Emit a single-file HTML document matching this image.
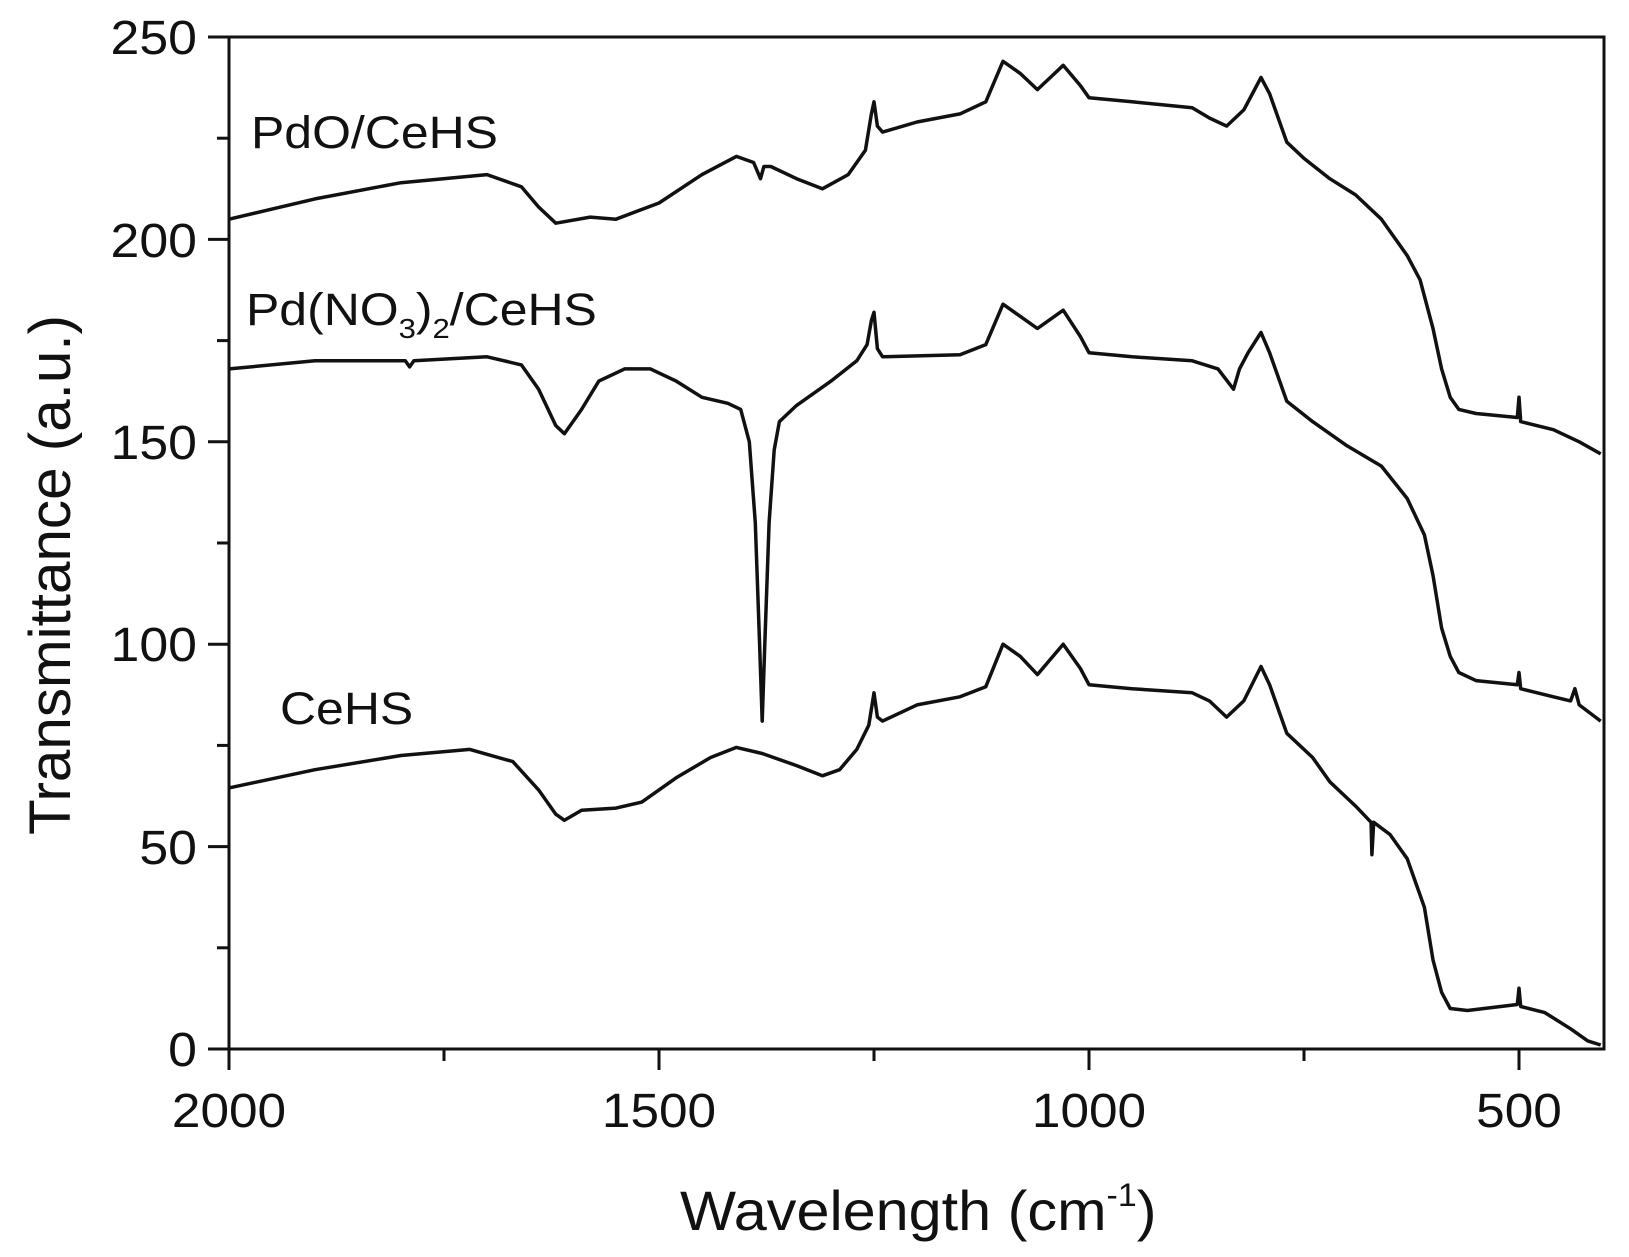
<!DOCTYPE html>
<html><head><meta charset="utf-8"><style>
html,body{margin:0;padding:0;background:#fff}
svg{display:block}
text{font-family:"Liberation Sans",Arial,sans-serif;fill:#111}
</style></head><body>
<svg id="s" width="1629" height="1257" viewBox="0 0 1629 1257" xmlns="http://www.w3.org/2000/svg">
<rect x="229" y="37" width="1375" height="1012" fill="none" stroke="#111" stroke-width="3"/>
<g id="ticks" stroke="#111" stroke-width="3"></g>
<g font-size="48" text-anchor="end">
<text transform="translate(197,1066) scale(1.08,1)">0</text>
<text transform="translate(197,864) scale(1.08,1)">50</text>
<text transform="translate(197,661) scale(1.08,1)">100</text>
<text transform="translate(197,459) scale(1.08,1)">150</text>
<text transform="translate(197,257) scale(1.08,1)">200</text>
<text transform="translate(197,54) scale(1.08,1)">250</text>
</g>
<g font-size="48" text-anchor="middle">
<text transform="translate(229,1127) scale(1.07,1)">2000</text>
<text transform="translate(659,1127) scale(1.07,1)">1500</text>
<text transform="translate(1089,1127) scale(1.07,1)">1000</text>
<text transform="translate(1519,1127) scale(1.07,1)">500</text>
</g>
<text transform="translate(70,575) rotate(-90)" font-size="58" text-anchor="middle" textLength="520" lengthAdjust="spacingAndGlyphs">Transmittance (a.u.)</text>
<text transform="translate(680,1230) scale(1.06,1)" font-size="56">Wavelength (cm<tspan font-size="32" dy="-24">-1</tspan><tspan dy="24">)</tspan></text>
<text transform="translate(251,148) scale(1.11,1)" font-size="45">PdO/CeHS</text>
<text transform="translate(246,325) scale(1.11,1)" font-size="45">Pd(NO<tspan font-size="28" dy="13">3</tspan><tspan dy="-13">)</tspan><tspan font-size="28" dy="13">2</tspan><tspan dy="-13">/CeHS</tspan></text>
<text transform="translate(280,724) scale(1.11,1)" font-size="45">CeHS</text>
<g id="curves" fill="none" stroke="#111" stroke-width="3.5" stroke-linejoin="round"></g>
</svg>
<script>
var X=function(w){return 229+(2000-w)*0.86},Y=function(v){return 1049-v*4.048};
var t=document.getElementById('ticks'),h='';
for(var v=0;v<=250;v+=25){var l=v%50==0?21:12;h+='<line x1="'+(229-l)+'" x2="229" y1="'+Y(v)+'" y2="'+Y(v)+'"/>';}
for(var w=2000;w>=500;w-=250){var l=w%500==0?21:12;h+='<line y1="1049" y2="'+(1049+l)+'" x1="'+X(w)+'" x2="'+X(w)+'"/>';}
t.innerHTML=h;
var A=[[2000,205],[1900,210],[1800,214],[1700,216],[1660,213],[1640,208],[1620,204],[1580,205.5],[1550,205],[1500,209],[1450,216],[1410,220.5],[1390,219],[1382,215],[1378,218],[1370,218],[1340,215],[1310,212.5],[1280,216],[1260,222],[1253,231],[1250,234],[1246,228],[1240,226.5],[1200,229],[1150,231],[1120,234],[1110,239],[1100,244],[1080,241],[1060,237],[1045,240],[1030,243],[1010,238],[1000,235],[950,234],[880,232.5],[860,230],[840,228],[820,232],[800,240],[790,236],[770,224],[750,220],[720,215],[690,211],[660,205],[630,196],[615,190],[600,178],[590,168],[580,161],[570,158],[550,157],[502,156],[500,161],[498,155],[460,153],[430,150],[405,147]];
var B=[[2000,168],[1900,170],[1795,170],[1790,168.5],[1785,170],[1700,171],[1660,169],[1640,163],[1620,154],[1610,152],[1590,158],[1570,165],[1540,168],[1510,168],[1480,165],[1450,161],[1420,159.5],[1405,158],[1395,150],[1388,130],[1383,100],[1380,81],[1377,100],[1372,130],[1366,148],[1360,155],[1340,159],[1300,165],[1270,170],[1258,174],[1253,180],[1250,182],[1246,173],[1240,171],[1150,171.5],[1120,174],[1100,184],[1080,181],[1060,178],[1030,182.5],[1010,176],[1000,172],[950,171],[880,170],[850,168],[832,163],[825,168],[815,172],[800,177],[790,172],[770,160],[740,155],[700,149],[660,144],[630,136],[610,127],[600,117],[590,104],[580,97],[570,93],[550,91],[502,90],[500,93],[498,89],[460,87],[440,86],[435,89],[430,85],[405,81]];
var C=[[2000,64.5],[1900,69],[1800,72.5],[1720,74],[1670,71],[1640,64],[1620,58],[1610,56.5],[1590,59],[1550,59.5],[1520,61],[1480,67],[1440,72],[1410,74.5],[1380,73],[1340,70],[1310,67.5],[1290,69],[1270,74],[1256,80],[1250,88],[1246,82],[1240,81],[1200,85],[1150,87],[1120,89.5],[1100,100],[1080,97],[1060,92.5],[1030,100],[1010,94],[1000,90],[950,89],[880,88],[860,86],[840,82],[820,86],[800,94.5],[790,90],[770,78],[740,72],[720,66],[700,62],[690,60],[672,56],[671,48],[669,56],[650,53],[630,47],[610,35],[600,22],[590,14],[580,10],[560,9.5],[502,11],[500,15],[498,10.5],[470,9],[440,5],[420,2],[405,1]];
var g=document.getElementById('curves'),s='';
[A,B,C].forEach(function(P){s+='<polyline points="'+P.map(function(p){return X(p[0]).toFixed(1)+','+Y(p[1]).toFixed(1)}).join(' ')+'"/>';});
g.innerHTML=s;
</script>
</body></html>
